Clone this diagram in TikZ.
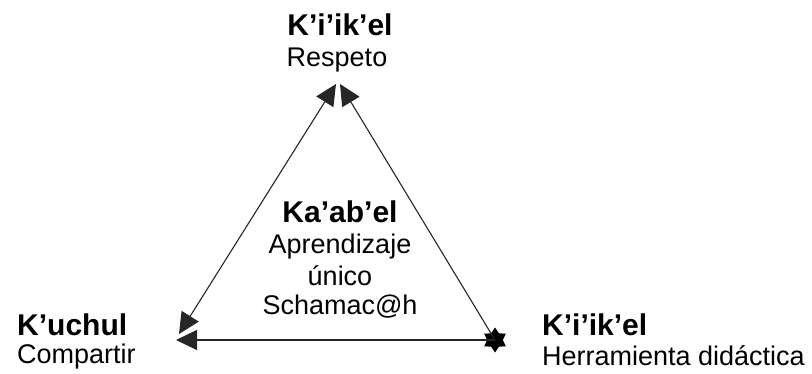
\documentclass[tikz,border=0pt]{standalone}
\usepackage{fontspec}
\setmainfont{Liberation Sans}
\usetikzlibrary{arrows.meta,shapes.geometric}
\tikzset{
  head/.style={font=\fontsize{30}{32}\selectfont\bfseries, anchor=base, inner sep=0pt},
  sub/.style={font=\fontsize{27}{30}\selectfont, anchor=base, inner sep=0pt},
  edge/.style={line width=1.1pt, draw=black!85},
  bigtip/.tip={Triangle[length=21pt,width=20pt]},
  tip/.style={-bigtip},
  starnode/.style={star, star points=6, star point ratio=1.6, fill=black, minimum size=25pt, inner sep=0pt}
}
\begin{document}
\begin{tikzpicture}[x=1pt,y=-1pt]
\useasboundingbox (0,0) rectangle (812,374);
% texts
\node[head] (t1) at (340,36) {K’i’ik’el};
\node[sub] (t2) at (337,67) {Respeto};
\node[head,anchor=base west] (l1) at (17,335) {K’uchul};
\node[sub,anchor=base west] (l2) at (17,363) {Compartir};
\node[head,anchor=base west] (r1) at (542,336) {K’i’ik’el};
\node[sub,anchor=base west] (r2) at (542,365) {Herramienta didáctica};
\node[head] (c1) at (340,223) {Ka’ab’el};
\node[sub] (c2) at (340,254) {Aprendizaje};
\node[sub] (c3) at (340,286) {único};
\node[sub] (c4) at (340,315) {Schamac@h};
% vertices
\coordinate (topL) at (336,84);
\coordinate (topR) at (340,84);
\coordinate (blA) at (179,334);
\coordinate (blB) at (176,342);
\node[starnode] (br) at (495,340) {};
% connectors
\draw[edge,bigtip-bigtip] (blA) -- (topL);
\draw[edge,tip] (br.center) -- (topR);
\draw[edge,tip] (br.center) -- (br.center -| blB);
\end{tikzpicture}
\end{document}
